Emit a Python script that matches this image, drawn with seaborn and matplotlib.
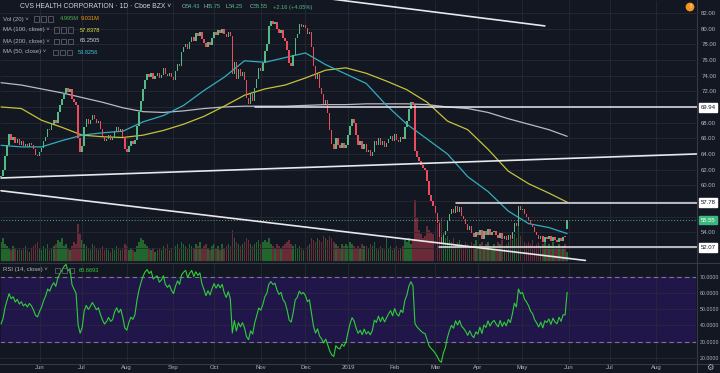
import numpy as np
import pandas as pd
import matplotlib
matplotlib.use("Agg")
import matplotlib.pyplot as plt
import matplotlib.transforms as mtransforms
from matplotlib.patches import Rectangle
import seaborn as sns

# -------------------------------
# DATA
# -------------------------------
start_day = "2018-05-07"
axis_end_day = "2019-08-30"

# daily closes, one per trading day
closes = [
    61.2, 62.0, 63.8, 65.2, 66.6, 65.8, 66.2, 65.4, 65.9, 65.2,
    65.6, 65.0, 65.3, 64.9, 65.4, 65.1, 64.6, 63.9, 63.7, 64.3,
    64.8, 65.6, 66.2, 67.2, 67.0, 67.8, 68.3, 68.0, 69.4, 70.2,
    71.0, 71.8, 72.4, 71.9, 72.3, 71.0, 70.6, 70.2, 66.0, 64.3,
    65.0, 67.5, 68.5, 67.8, 68.3, 69.0, 68.5, 67.9, 68.2, 67.2,
    66.3, 65.6, 65.9, 66.4, 65.8, 66.0, 66.9, 67.4, 66.8, 67.2,
    66.2, 64.6, 64.2, 65.0, 65.6, 65.3, 65.8, 67.6, 69.3, 70.8,
    72.3, 73.5, 74.2, 73.8, 74.4, 73.6, 74.0, 74.3, 73.7, 74.1,
    75.0, 74.2, 73.9, 74.3, 73.8, 73.5, 74.6, 75.5, 75.2, 77.0,
    77.6, 78.0, 77.4, 78.3, 78.9, 78.4, 79.4, 79.1, 79.6, 78.7,
    78.2, 77.6, 78.3, 77.9, 78.8, 79.6, 79.2, 79.8, 79.5, 80.0,
    79.3, 78.9, 79.6, 79.0, 74.2, 75.8, 73.6, 74.8, 73.9, 74.5,
    73.4, 71.2, 70.4, 71.6, 70.8, 72.4, 73.6, 75.0, 74.6, 75.6,
    77.2, 78.0, 80.3, 81.0, 80.6, 80.9, 80.0, 79.4, 79.8, 78.8,
    78.4, 77.3, 75.6, 75.2, 76.6, 78.8, 79.3, 80.6, 80.2, 80.5,
    80.1, 79.3, 79.6, 77.7, 75.2, 73.6, 74.2, 72.4, 71.6, 70.4,
    70.9, 69.2, 67.0, 65.3, 64.6, 66.0, 65.1, 64.8, 65.4, 64.7,
    65.2, 66.4, 67.6, 68.5, 67.9, 66.4, 65.2, 65.6, 64.6, 65.3,
    64.2, 64.5, 63.8, 64.3, 65.6, 65.2, 66.0, 65.1, 65.7, 64.9,
    65.4, 65.9, 66.3, 65.6, 66.5, 65.8, 65.5, 66.2, 65.9, 67.4,
    68.2, 69.7, 70.6, 70.2, 64.4, 63.6, 63.1, 62.6, 62.2, 62.0,
    60.6, 58.8, 58.0, 57.3, 56.4, 55.2, 53.4, 52.6, 53.6, 54.2,
    55.4, 56.3, 57.0, 56.4, 57.4, 56.6, 57.2, 56.1, 55.7, 55.1,
    54.3, 54.8, 53.9, 53.4, 54.0, 53.6, 54.3, 53.2, 54.1, 53.7,
    54.4, 53.6, 54.0, 54.2, 53.7, 53.3, 53.9, 53.1, 53.5, 53.0,
    53.6, 53.2, 54.0, 55.2, 54.8, 57.3, 56.8, 57.0, 56.3, 56.0,
    55.6, 55.0, 54.7, 54.0, 53.6, 53.1, 53.5, 52.8, 53.4, 53.2,
    53.5, 52.9, 53.4, 53.0, 52.8, 53.3, 52.9, 53.4, 53.39, 55.55,
]
first_open = 61.0
last_open = 54.43

# volume in millions
volumes = [
    10, 12, 9, 8, 7, 6, 8, 7, 6, 7,
    6, 7, 8, 6, 5, 7, 8, 9, 10, 7,
    6, 8, 7, 9, 6, 7, 8, 9, 11, 10,
    12, 8, 9, 7, 6, 8, 10, 9, 19, 14,
    11, 9, 8, 7, 6, 9, 8, 7, 6, 7,
    8, 6, 7, 6, 5, 7, 6, 8, 7, 6,
    7, 9, 8, 6, 7, 6, 5, 8, 10, 12,
    11, 9, 8, 7, 6, 7, 5, 6, 7, 6,
    8, 7, 9, 6, 7, 6, 8, 9, 7, 10,
    9, 8, 7, 9, 8, 7, 9, 8, 10, 7,
    8, 9, 7, 6, 8, 9, 7, 8, 6, 9,
    7, 8, 9, 8, 16, 12, 10, 9, 8, 9,
    10, 12, 11, 9, 8, 9, 10, 11, 9, 10,
    11, 10, 12, 9, 8, 7, 9, 8, 7, 8,
    9, 10, 11, 9, 8, 9, 7, 8, 7, 6,
    7, 8, 9, 12, 11, 10, 12, 11, 10, 13,
    12, 11, 13, 12, 10, 9, 8, 7, 9, 8,
    9, 8, 10, 9, 8, 7, 8, 7, 9, 8,
    8, 7, 9, 8, 10, 7, 6, 8, 7, 6,
    12, 7, 8, 6, 7, 8, 6, 7, 8, 11,
    10, 12, 9, 11, 31, 22, 16, 14, 12, 13,
    18, 16, 15, 14, 17, 19, 21, 22, 15, 12,
    13, 11, 10, 12, 9, 10, 11, 9, 8, 10,
    9, 8, 10, 9, 11, 8, 9, 10, 8, 9,
    10, 8, 7, 9, 8, 10, 9, 11, 8, 9,
    10, 12, 11, 14, 12, 19, 13, 11, 10, 9,
    10, 9, 11, 8, 9, 10, 8, 9, 10, 8,
    9, 8, 10, 7, 8, 9, 7, 8, 9, 5,
]

# moving averages sampled every 10 bars (plus last bar)
ma_every = 10
ma50 = [65.1, 64.9, 64.9, 65.7, 66.4, 66.7, 66.9, 68.1, 68.9, 70.2,
        72.1, 73.8, 75.9, 75.7, 76.3, 76.9, 75.4, 74.2, 73.0, 70.2,
        67.8, 65.9, 64.0, 61.1, 59.2, 56.7, 55.1, 54.6, 53.83]
ma100 = [70.0, 69.8, 68.3, 67.4, 66.4, 66.2, 66.1, 66.4, 67.0, 67.8,
         68.8, 70.1, 71.5, 72.3, 72.8, 73.7, 74.7, 75.0, 74.3, 73.3,
         72.2, 70.6, 68.2, 67.1, 64.6, 61.8, 60.2, 59.0, 57.84]
ma200 = [73.1, 72.8, 72.3, 71.8, 71.2, 70.6, 69.9, 69.4, 69.3, 69.5,
         69.8, 70.0, 70.1, 70.1, 70.1, 70.2, 70.3, 70.3, 70.4, 70.4,
         70.4, 70.3, 70.0, 69.8, 69.3, 68.5, 67.8, 67.1, 66.25]

# RSI(14) starting averages for the Wilder smoothing
rsi_seed_gain = 0.45
rsi_seed_loss = 0.65

# drawn lines: (start bar, start price, end bar, end price)
trend_lines = [
    (150, 84.2, 268, 80.35),
    (0, 60.93, 343, 64.0),
    (0, 59.3, 288, 50.4),
]
levels = [69.94, 57.78, 52.07]
level_start = [125, 224, 216]

price_ticks = list(range(52, 84, 2))
hidden_ticks = [70, 58, 56, 52]
rsi_ticks = [20, 30, 40, 50, 60, 70]

# -------------------------------
# STYLE
# -------------------------------
BG = "#131722"
GRID = "#262a36"
TXT = "#b2b5be"
UP = "#53b987"
DN = "#eb4d5c"
FS = 4.3

sns.set_theme(style="darkgrid", rc={
    "axes.facecolor": BG, "figure.facecolor": BG, "grid.color": GRID,
    "grid.linewidth": 0.6, "text.color": TXT, "xtick.color": TXT,
    "ytick.color": TXT, "axes.edgecolor": BG,
})
plt.rcParams["font.family"] = ["Liberation Sans", "DejaVu Sans"]

W, H = 720, 373


def rect(x0, y0, x1, y1):
    return [x0 / W, 1 - y1 / H, (x1 - x0) / W, (y1 - y0) / H]


def ftext(x, y, s, **kw):
    fig.text(x / W, 1 - y / H, s, va="center", ha="left", **kw)


def icons(x, y):
    for k in range(3):
        fig.add_artist(Rectangle(((x + k * 7) / W, 1 - (y + 2.5) / H), 5 / W, 5 / H,
                                 fill=False, ec="#6a6d78", lw=0.5,
                                 transform=fig.transFigure))


fig = plt.figure(figsize=(7.2, 3.73), dpi=100, facecolor=BG)
vol_ax = fig.add_axes(rect(0, 0, 697, 262))
ax = fig.add_axes(rect(0, 0, 697, 262), sharex=vol_ax)
rsi_ax = fig.add_axes(rect(0, 263, 697, 363), sharex=vol_ax)
ax.set_facecolor("none")

# -------------------------------
# CANDLES + VOLUME
# -------------------------------
c = np.array(closes)
x = np.arange(len(c))
opens = np.r_[first_open, c[:-1]]
opens[-1] = last_open
up = c >= opens
body_lo = np.minimum(opens, c)
body_h = np.maximum(np.abs(c - opens), 0.07)

vol_ax.bar(x, volumes, width=0.72, color=np.where(up, "#22662e", "#6b2a37"), linewidth=0)
vol_ax.set_ylim(0, 131)
vol_ax.set_axis_off()

ax.bar(x, body_h, bottom=body_lo, width=0.72, color=np.where(up, UP, DN),
       linewidth=0, zorder=4)

ma_x = list(range(0, len(c), ma_every)) + [len(c) - 1]
sns.lineplot(x=ma_x, y=ma200, ax=ax, color="#b9bac2", lw=0.9, zorder=3)
sns.lineplot(x=ma_x, y=ma100, ax=ax, color="#c4c23a", lw=0.9, zorder=3)
sns.lineplot(x=ma_x, y=ma50, ax=ax, color="#31aebf", lw=0.9, zorder=3)

for x0, y0, x1, y1 in trend_lines:
    ax.plot([x0, x1], [y0, y1], color="#e8e8ec", lw=1.2, zorder=5)
for p, s in zip(levels, level_start):
    ax.plot([s, 343], [p, p], color="#e8e8ec", lw=1.1, zorder=5)
ax.axhline(c[-1], color="#5fa883", lw=0.7, ls=(0, (1, 2)), zorder=2)

ax.set_xlim(-0.5, 343)
ax.set_ylim(50.2, 83.66)
ax.yaxis.tick_right()
ax.set_yticks(price_ticks)
ax.set_yticklabels(["" if t in hidden_ticks else "%.2f" % t for t in price_ticks])
ax.tick_params(axis="y", labelsize=FS, length=0, pad=3)
ax.tick_params(axis="x", labelbottom=False, length=0)

blend = mtransforms.blended_transform_factory(ax.transAxes, ax.transData)
for p in levels:
    ax.text(1.005, p, "%.2f" % p, transform=blend, fontsize=FS, color="#131722",
            va="center", ha="left", zorder=10,
            bbox=dict(boxstyle="square,pad=0.3", fc="white", ec="white"))
ax.text(1.005, c[-1], "%.2f" % c[-1], transform=blend, fontsize=FS, color="white",
        va="center", ha="left", zorder=10,
        bbox=dict(boxstyle="square,pad=0.3", fc="#3bb77b", ec="#3bb77b"))

# -------------------------------
# RSI
# -------------------------------
diff = pd.Series(c).diff().fillna(0)
gain = diff.clip(lower=0)
loss = -diff.clip(upper=0)
ag, al = rsi_seed_gain, rsi_seed_loss
rsi = []
for g, l in zip(gain, loss):
    ag = (ag * 13 + g) / 14
    al = (al * 13 + l) / 14
    rsi.append(100 * ag / (ag + al))

rsi_ax.axhspan(30, 70, color="#21164a", zorder=0)
for lv in [70, 30]:
    rsi_ax.axhline(lv, color="#7d72a3", lw=0.8, ls=(0, (4, 3)), zorder=1)
sns.lineplot(x=x, y=rsi, ax=rsi_ax, color="#2fce3a", lw=0.8, zorder=3)
rsi_ax.set_ylim(17.0, 78.3)
rsi_ax.yaxis.tick_right()
rsi_ax.set_yticks(rsi_ticks)
rsi_ax.set_yticklabels(["%.4f" % t for t in rsi_ticks])
rsi_ax.tick_params(axis="y", labelsize=3.8, length=0, pad=2)

# month ticks from the business-day calendar
days = pd.bdate_range(start_day, axis_end_day)
month_pos, month_lab = [], []
for i, d in enumerate(days):
    if i > 0 and d.month != days[i - 1].month:
        month_pos.append(i)
        month_lab.append(str(d.year) if d.month == 1 else d.strftime("%b"))
rsi_ax.set_xticks(month_pos)
rsi_ax.set_xticklabels(month_lab)
rsi_ax.tick_params(axis="x", labelsize=FS, length=0, pad=1.5)
rsi_ax.set_xlim(-0.5, 343)
for a in (ax, rsi_ax):
    a.grid(True, color=GRID, lw=0.6)
    a.set_xlabel("")
    a.set_ylabel("")

# -------------------------------
# SEPARATORS, LEGENDS
# -------------------------------
for yy in (262.5, 363.5):
    fig.add_artist(plt.Line2D([0, 1], [1 - yy / H] * 2, color="#363a45", lw=0.8,
                              transform=fig.transFigure))
fig.add_artist(plt.Line2D([697 / W] * 2, [0, 1], color="#363a45", lw=0.8,
                          transform=fig.transFigure))

ftext(20, 7, "CVS HEALTH CORPORATION · 1D · Cboe BZX ˅", fontsize=4.9, color="#d1d4dc")
for xx, lab, val in [(182, "O", "54.43"), (203, "H", "55.75"), (225, "L", "54.25"),
                     (250, "C", "55.55")]:
    ftext(xx, 7, lab, fontsize=4.1, color=TXT)
    ftext(xx + 3.5, 7, val, fontsize=4.1, color=UP)
ftext(273, 7, "+2.16 (+4.05%)", fontsize=4.1, color=UP)

ftext(3, 19, "Vol (20) ˅", fontsize=FS, color=TXT)
icons(34, 19)
ftext(60, 19, "4.995M", fontsize=4.1, color="#4caf50")
ftext(81, 19, "9.031M", fontsize=4.1, color="#ff9800")
ftext(3, 30, "MA (100, close) ˅", fontsize=FS, color=TXT)
icons(54, 30)
ftext(80, 30, "57.8378", fontsize=4.1, color="#e5e53b")
ftext(3, 41, "MA (200, close) ˅", fontsize=FS, color=TXT)
icons(54, 41)
ftext(80, 41, "66.2505", fontsize=4.1, color="#d1d4dc")
ftext(3, 52, "MA (50, close) ˅", fontsize=FS, color=TXT)
icons(53, 52)
ftext(78, 52, "53.8256", fontsize=4.1, color="#3ec9d6")
ftext(3, 270, "RSI (14, close) ˅", fontsize=FS, color=TXT)
icons(55, 270)
ftext(79, 270, "60.6693", fontsize=4.1, color="#2fce3a")

fig.text(690 / W, 1 - 7 / H, "!", fontsize=4.5, color="white", ha="center", va="center",
         fontweight="bold", bbox=dict(boxstyle="circle,pad=0.3", fc="#f7931e", ec="none"))
fig.text(710 / W, 1 - 368 / H, "⚙", fontsize=6, color=TXT, ha="center", va="center")

fig.savefig("out.png", dpi=100, facecolor=BG)
